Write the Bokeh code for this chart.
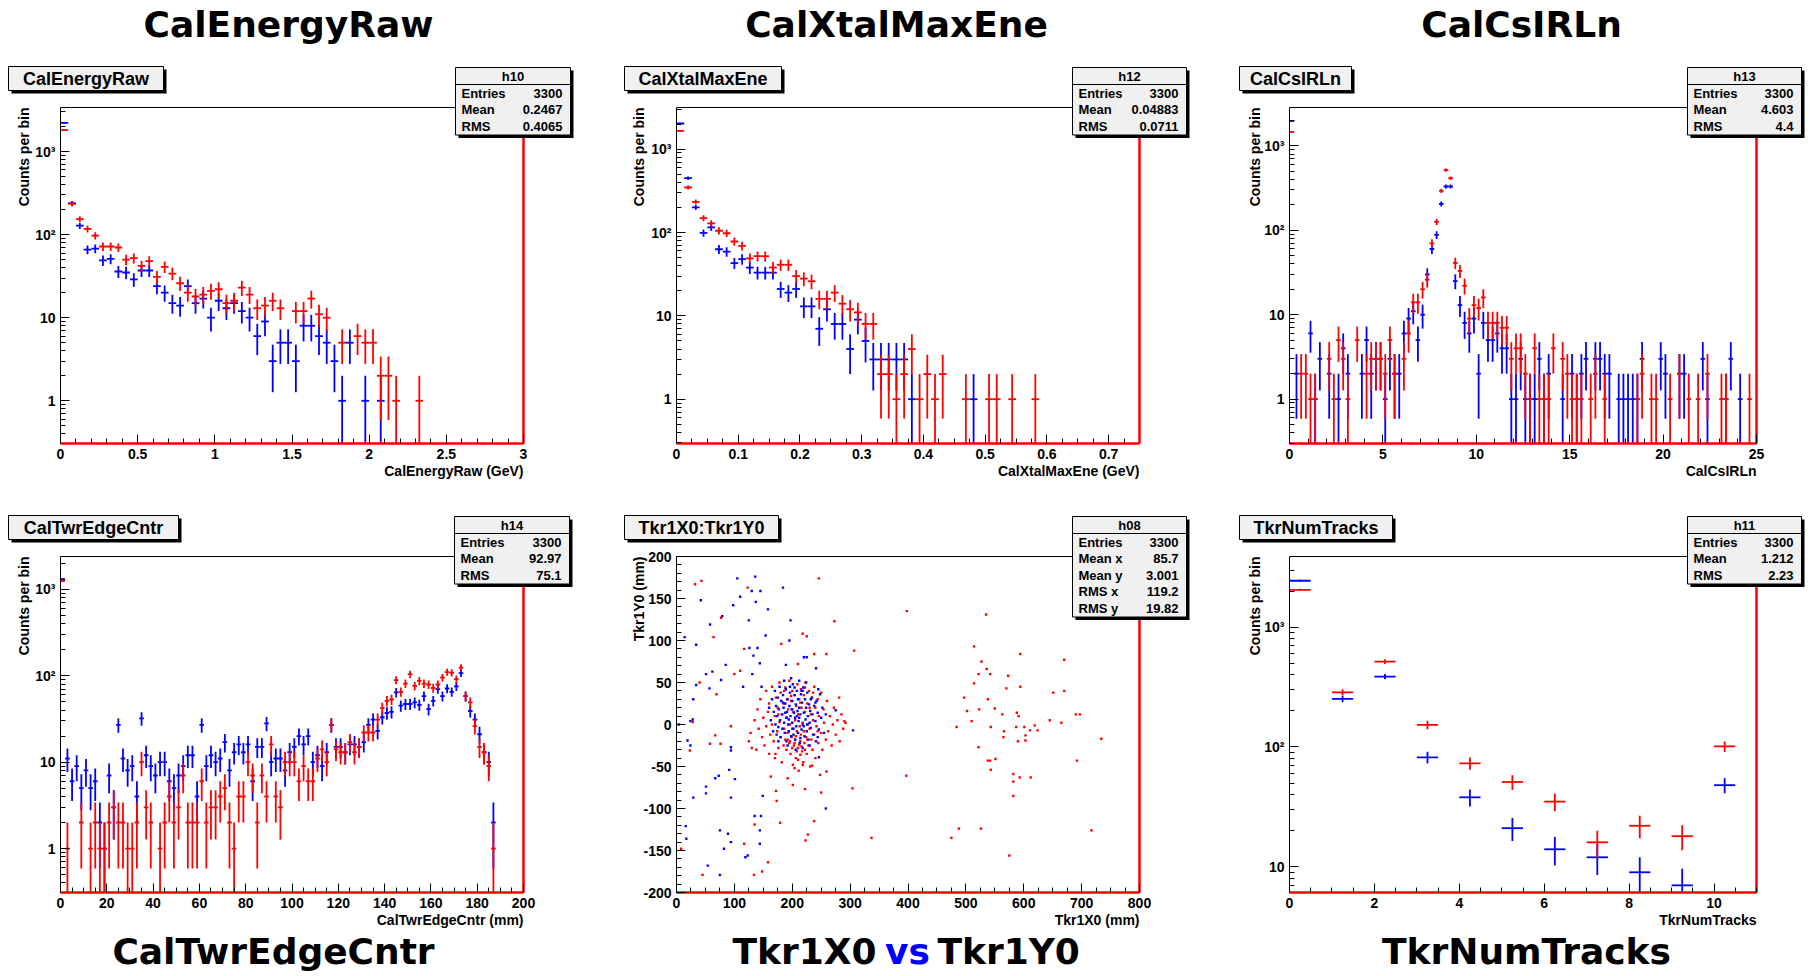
import math
from bokeh.plotting import figure
from bokeh.models import (Label, BoxAnnotation, Range1d, FixedTicker,
                          SingleIntervalTicker, CustomJSTickFormatter)
from bokeh.layouts import column, row
from bokeh.embed import file_html
from bokeh.resources import INLINE

# ---------------- data ----------------
# Panel 1: CalEnergyRaw (bins of 0.05 GeV from 0)
p1_blue_bin = list(range(0, 38)) + [39, 41]
p1_blue_y = [2215, 239, 128, 66, 68, 49, 51, 36, 35, 29,
             37, 37, 24, 20, 15, 14, 24, 15, 17, 10,
             16, 13, 15, 12, 10, 6, 9, 3, 5, 5,
             3, 8, 8, 6, 5, 3, 1, 5, 1, 1]
p1_red_bin = list(range(0, 29)) + [30, 31, 32, 33, 34, 36, 38, 39, 40, 41, 42, 43, 46]
p1_red_y = [1810, 234, 154, 117, 97, 72, 72, 70, 50, 52,
            42, 48, 31, 41, 34, 26, 20, 18, 19, 21,
            22, 15, 16, 23, 19, 13, 14, 16, 13,
            12, 12, 17, 11, 10, 5, 6, 5, 5, 2, 2, 1, 1]

# Panel 2: CalXtalMaxEne (bins of 0.0125 GeV)
p2_blue_bin = list(range(0, 31)) + [38]
p2_blue_y = [2032, 449, 200, 99, 115, 63, 59, 43, 48, 38,
             33, 33, 33, 21, 19, 21, 13, 13, 7, 12,
             8, 8, 4, 9, 5, 3, 3, 3, 3, 3, 1, 1]
p2_red_bin = list(range(0, 35)) + [37, 40, 41, 43, 46]
p2_red_y = [1660, 347, 233, 149, 129, 105, 98, 78, 69, 49,
            52, 52, 38, 41, 41, 30, 28, 26, 16, 16,
            19, 14, 12, 11, 8, 8, 2, 2, 1, 2,
            4, 1, 2, 1, 2, 1, 1, 1, 1, 1]

# Panel 3: CalCsIRLn (bins of 0.25)
p3_blue_bin = [0, 1, 4, 5, 6, 8, 10, 11, 12, 15, 16, 17, 18, 19, 20, 21, 22, 23, 24, 25,
               26, 27, 28, 29, 30, 31, 32, 33, 34, 35, 36, 37, 38, 39, 40, 41, 42, 43, 44, 45,
               46, 47, 48, 49, 50, 51, 52, 53, 54, 55, 58, 60, 61, 62, 63, 65, 66, 67, 68, 70,
               71, 72, 73, 74, 75, 79, 80, 83, 84, 88, 89, 93, 94, 96]
p3_blue_y = [1978, 2, 6, 1, 3, 2, 1, 4, 2, 2, 5, 2, 3, 3, 1, 3, 2, 2, 6, 9,
             11, 5, 10, 30, 60, 88, 205, 330, 330, 25, 13, 8, 6, 9, 2, 8, 5, 5, 6, 4,
             4, 1, 1, 3, 1, 1, 1, 3, 1, 2, 1, 2, 1, 2, 3, 3, 3, 2, 2, 1,
             1, 1, 1, 1, 3, 3, 2, 2, 2, 3, 1, 1, 3, 1]
p3_red_bin = [0, 2, 3, 4, 5, 8, 9, 10, 11, 12, 14, 16, 17, 18, 19, 20, 21, 22, 24, 25,
              26, 27, 28, 29, 30, 31, 32, 33, 34, 35, 36, 37, 38, 39, 40, 41, 42, 43, 44, 45,
              46, 47, 48, 49, 50, 51, 52, 53, 54, 55, 56, 58, 59, 60, 61, 62, 64, 65, 67, 74,
              75, 77, 78, 81, 83, 85, 87, 89, 92, 93, 98]
p3_red_y = [1466, 2, 2, 1, 1, 3, 1, 5, 3, 1, 5, 2, 3, 3, 3, 2, 5, 2, 3, 6,
            14, 14, 20, 26, 70, 126, 293, 515, 414, 41, 33, 22, 9, 13, 12, 16, 8, 8, 8, 7,
            7, 3, 4, 4, 2, 1, 4, 1, 1, 1, 4, 3, 2, 1, 1, 1, 1, 2, 1, 1,
            2, 1, 1, 1, 2, 1, 1, 2, 1, 1, 1]

# Panel 4: CalTwrEdgeCntr (bins of 2 mm)
p4_blue_bin = list(range(0, 94))
p4_blue_y = [1306, 11, 6, 9, 5, 8, 5, 6, 2, 1,
             7, 3, 27, 11, 8, 9, 4, 32, 12, 9,
             7, 10, 10, 6, 5, 7, 9, 12, 12, 4,
             27, 9, 12, 10, 11, 17, 8, 13, 16, 13,
             16, 6, 15, 15, 28, 10, 11, 11, 8, 13,
             15, 20, 16, 20, 10, 12, 9, 13, 27, 15,
             15, 13, 16, 16, 15, 17, 27, 31, 23, 33,
             37, 38, 64, 45, 47, 47, 49, 46, 58, 41,
             51, 70, 58, 71, 65, 75, 107, 58, 39, 31,
             21, 13, 10, 2]
p4_red_bin = [0, 1, 4] + list(range(6, 20)) + list(range(21, 94))
p4_red_y = [1250, 1, 2,
            1, 2, 1, 1, 2, 3, 2, 2, 1, 1, 2, 10, 3, 2,
            1, 2, 4, 2, 3, 7, 2, 2, 2, 6,
            2, 3, 3, 4, 5, 2, 1, 4, 4, 10,
            7, 2, 7, 4, 16, 4, 3, 10, 10, 10,
            6, 9, 6, 6, 11, 14, 10, 27, 14, 13,
            13, 17, 13, 15, 22, 22, 22, 31, 42, 51,
            53, 89, 65, 81, 104, 76, 87, 81, 79, 72,
            79, 95, 110, 108, 91, 124, 58, 49, 26, 15,
            13, 9, 1]

# Panel 5: Tkr1X0 vs Tkr1Y0 scatter (mm)
p5_blue_pts = [
    (105, 174), (136, 176), (184, 163), (110, 152), (130, 159), (145, 159), (137, 146), (42, 148),
    (98, 142), (158, 137), (125, 124), (58, 119), (197, 124), (79, 129), (14, 104), (154, 106),
    (195, 100), (34, 95), (126, 91), (140, 91), (133, 82), (144, 73), (85, 71), (225, 80),
    (51, 60), (62, 63), (131, 60), (77, 53), (241, 67), (189, 71), (34, 47), (57, 43),
    (115, 45), (147, 45), (29, 30), (24, 4), (4, 0), (19, -19), (24, -25), (94, -27),
    (94, -31), (91, -54), (73, -61), (101, -65), (67, -64), (51, -74), (51, -82), (29, -87),
    (94, -87), (149, -85), (246, -39), (258, -100), (135, -109), (146, -109), (16, -121),
    (144, -126), (75, -126), (89, -130), (94, -140), (17, -136), (144, -142), (82, -148),
    (119, -158), (123, -156), (54, -168), (75, -179), (305, -7), (220, 80), (28, 6),
    (218, 40), (240, 26), (275, 17), (245, 42),
    (160, 20), (163, 5), (165, 30), (167, -8), (168, 15), (170, 40), (171, 0), (172, 22),
    (173, -12), (174, 10), (175, 32), (176, -3), (177, 18), (178, 45), (179, 5), (180, -15),
    (181, 28), (182, 12), (183, -5), (184, 35), (185, 20), (186, 2), (187, -10), (188, 25),
    (189, 42), (190, 8), (190, -20), (191, 15), (192, 30), (193, 0), (194, -8), (195, 22),
    (196, 38), (197, 10), (198, -14), (199, 18), (200, 28), (200, 2), (201, 48), (202, -5),
    (203, 14), (204, 35), (205, -18), (205, 8), (206, 24), (207, -2), (208, 40), (209, 16),
    (210, -10), (210, 30), (211, 4), (212, 20), (213, -22), (214, 12), (215, 36), (216, -6),
    (217, 26), (218, 0), (219, 44), (220, 14), (221, -14), (222, 30), (223, 6), (224, 20),
    (225, -8), (226, 38), (227, 10), (228, -18), (229, 24), (230, 2), (231, 16), (232, -4),
    (234, 32), (235, 12), (236, -12), (238, 22), (240, 4), (241, -20), (242, 28), (244, 14),
    (246, -6), (248, 36), (250, 8), (252, 20), (255, -10), (258, 12), (186, 52), (198, 55),
    (212, 52), (224, 50), (192, -25), (206, -30), (218, -28), (230, -25), (176, -20),
    (244, -15), (196, 45), (214, -16), (202, -12), (188, 14), (208, 10), (220, -2), (194, 6),
    (226, 0), (200, 18), (212, 8), (184, 26), (232, 30), (216, 40), (204, 44)]
p5_red_pts = [
    (32, 167), (43, 171), (246, 174), (123, 163), (77, 127), (64, 104), (181, 96), (218, 108),
    (225, 105), (273, 123), (307, 88), (117, 90), (238, 84), (259, 84), (398, 135), (100, 60),
    (110, 64), (69, 36), (210, 72), (281, 32), (290, 4), (67, -13), (58, -23), (76, -23),
    (94, -2), (28, 3), (40, 50), (171, -35), (192, -64), (201, -72), (222, -77), (234, -49),
    (250, -81), (259, -56), (163, -62), (172, -79), (173, -91), (179, -117), (238, -115),
    (227, -131), (223, -138), (135, -119), (117, -142), (158, -164), (148, -175), (134, -179),
    (45, -179), (8, -148), (304, -76), (337, -135), (397, -61), (23, -31),
    (535, 131), (514, 93), (527, 75), (536, 66), (542, 60), (522, 60), (573, 58), (594, 84),
    (670, 77), (514, 49), (570, 43), (594, 45), (497, 32), (538, 30), (651, 38), (670, 40),
    (502, 16), (523, 18), (550, 19), (563, 12), (588, 14), (591, 10), (510, 4), (645, 5),
    (665, 2), (690, 12), (697, 12), (484, -3), (543, -3), (566, -8), (587, -3), (601, -3),
    (611, -7), (619, -1), (624, -7), (603, -13), (565, -15), (590, -20), (603, -19), (522, -27),
    (734, -17), (538, -43), (542, -43), (551, -41), (543, -54), (692, -43), (582, -59),
    (582, -68), (593, -63), (612, -63), (582, -85), (475, -135), (488, -124), (526, -124),
    (717, -126), (575, -156),
    (125, -20), (130, -28), (128, -10), (135, 5), (138, -30), (140, 18), (142, -5), (145, 30),
    (148, -15), (150, 8), (152, -25), (155, 40), (155, -2), (158, 15), (160, -35), (160, 25),
    (162, -12), (165, 45), (165, 0), (168, -20), (170, 10), (170, -40), (172, 32), (174, -8),
    (175, 20), (176, -28), (178, 50), (178, 3), (180, -15), (180, 38), (182, -45), (183, 12),
    (185, -25), (185, 25), (186, -5), (188, 44), (188, -18), (190, 8), (190, -30), (191, 30),
    (192, -10), (193, 18), (195, -22), (195, 52), (196, 0), (197, -35), (198, 28), (199, -15),
    (200, 40), (200, -5), (201, -48), (202, 15), (203, -25), (204, 35), (205, 5), (205, -18),
    (206, -40), (207, 22), (208, -8), (209, 48), (210, -28), (210, 12), (211, -55), (212, 30),
    (213, -2), (214, -20), (215, 42), (215, -12), (216, 20), (217, -32), (218, 2), (219, -45),
    (220, 35), (220, -8), (221, -22), (222, 15), (223, 50), (224, -15), (225, -35), (226, 25),
    (227, 0), (228, -25), (229, 40), (230, -5), (231, -50), (232, 12), (233, -18), (234, 32),
    (235, -30), (236, 5), (238, 45), (238, -12), (240, 20), (240, -40), (242, -2), (244, 30),
    (245, -22), (246, 10), (248, -60), (250, 38), (250, -10), (252, -30), (254, 18), (255, 2),
    (258, -18), (260, 28), (262, -8), (265, 10), (268, -25), (270, 0), (272, 20), (275, -12),
    (278, 5), (282, -20), (285, 12), (288, -5), (292, 2),
    (196, -20), (204, -22), (212, -24), (200, -28), (208, -32), (216, -26), (192, -18),
    (206, -14), (214, -36), (222, -30), (210, -42), (218, -48), (204, -52), (226, -18),
    (198, 34), (214, 26), (222, 44), (186, 40), (230, 20), (236, 38), (244, -8), (176, 12)]

# Panel 6: TkrNumTracks (bins of 0.5)
p6_bin = [0, 2, 4, 6, 8, 10, 12, 14, 16, 18, 20]
p6_blue_y = [2440, 252, 387, 82, 38, 21, 14, 12, 9, 7, 48]
p6_red_y = [2050, 286, 516, 153, 73, 51, 35, 16, 22, 18, 101]

stats = {
    "h10": [("Entries", "3300"), ("Mean", "0.2467"), ("RMS", "0.4065")],
    "h12": [("Entries", "3300"), ("Mean", "0.04883"), ("RMS", "0.0711")],
    "h13": [("Entries", "3300"), ("Mean", "4.603"), ("RMS", "4.4")],
    "h14": [("Entries", "3300"), ("Mean", "92.97"), ("RMS", "75.1")],
    "h08": [("Entries", "3300"), ("Mean x", "85.7"), ("Mean y", "3.001"),
            ("RMS x", "119.2"), ("RMS y", "19.82")],
    "h11": [("Entries", "3300"), ("Mean", "1.212"), ("RMS", "2.23")],
}

# ---------------- style ----------------
FONT = "Liberation Sans"
BIG = "DejaVu Sans"
RED = "#ff0000"
BLUE = "#0000ff"
BOXFILL = "#f0f0f0"
FH = 336  # inner frame height


def log_minor(lo, hi):
    out = []
    for e in range(-2, 5):
        for m in range(2, 10):
            v = m * 10 ** e
            if lo <= v <= hi:
                out.append(v)
    return out


class Panel:
    def __init__(self, W, H, L, R, T, B, xr, yr, log, xint, xminor, yint=None, yminor=None):
        self.ox = L          # screen x of inner frame left
        self.oy = H - B      # screen y (from bottom) of inner frame bottom
        self.xr, self.yr, self.log = xr, yr, log
        x0, x1 = xr
        fw = R - L
        xs = x0 - (x1 - x0) * L / fw
        xe = x1 + (x1 - x0) * (W - R) / fw
        a0, a1 = (math.log10(yr[0]), math.log10(yr[1])) if log else yr
        fh = B - T
        ys = a0 - (a1 - a0) * (H - B) / fh
        ye = a1 + (a1 - a0) * T / fh
        if log:
            ys, ye = 10 ** ys, 10 ** ye
        p = figure(width=W, height=H, x_range=Range1d(xs, xe), y_range=Range1d(ys, ye),
                   y_axis_type="log" if log else "linear", output_backend="svg",
                   toolbar_location=None, min_border=0)
        self.p = p
        p.xgrid.visible = False
        p.ygrid.visible = False
        p.outline_line_color = None
        p.background_fill_color = "white"
        p.border_fill_color = "white"
        for ax in (p.xaxis[0], p.yaxis[0]):
            ax.major_tick_in = 9
            ax.major_tick_out = 0
            ax.minor_tick_in = 5
            ax.minor_tick_out = 0
            ax.major_label_text_font = FONT
            ax.major_label_text_font_style = "bold"
            ax.major_label_text_font_size = "14px"
            ax.major_label_text_color = "black"
            ax.axis_line_color = "black"
            ax.major_tick_line_color = "black"
            ax.minor_tick_line_color = "black"
            ax.major_label_standoff = 5
        xa, ya = p.xaxis[0], p.yaxis[0]
        xa.fixed_location = yr[0]
        xa.bounds = xr
        xa.axis_line_color = None
        ya.fixed_location = xr[0]
        ya.bounds = yr
        xa.ticker = SingleIntervalTicker(interval=xint, num_minor_ticks=xminor)
        xa.formatter = CustomJSTickFormatter(
            code="return String(parseFloat(tick.toFixed(6)));")
        if log:
            majors = [v for v in (1, 10, 100, 1000) if yr[0] <= v <= yr[1]]
            ya.ticker = FixedTicker(ticks=majors, minor_ticks=log_minor(*yr))
            ya.formatter = CustomJSTickFormatter(code="""
                const e = Math.round(Math.log10(tick));
                if (e <= 0) return "1";
                if (e == 1) return "10";
                const sup = {2: "\u00b2", 3: "\u00b3", 4: "\u2074"};
                return "10" + sup[e];
            """)
        else:
            ya.ticker = SingleIntervalTicker(interval=yint, num_minor_ticks=yminor)
            ya.formatter = CustomJSTickFormatter(
                code="return String(parseFloat(tick.toFixed(6)));")
        # top edge of the frame (thin black)
        p.segment(x0=[xr[0]], x1=[xr[1]], y0=[yr[1]], y1=[yr[1]],
                  line_color="black", line_width=1)

    def edges(self):
        # red histogram edges on bottom and right
        x0, x1 = self.xr
        y0, y1 = self.yr
        self.p.segment(x0=[x0, x1], x1=[x1, x1], y0=[y0, y0], y1=[y0, y1],
                       line_color=RED, line_width=2.5)

    def hist(self, lo, w, bins, counts, color):
        ymin = self.yr[0]
        xs = [lo + (b + 0.5) * w for b in bins]
        ylo = [max(c - math.sqrt(c), ymin) for c in counts]
        yhi = [c + math.sqrt(c) for c in counts]
        self.p.segment(x0=[x - w / 2 for x in xs], x1=[x + w / 2 for x in xs],
                       y0=counts, y1=counts, line_color=color, line_width=1.8)
        self.p.segment(x0=xs, x1=xs, y0=ylo, y1=yhi, line_color=color, line_width=1.8)

    def label(self, x, y, text, size, align="left", baseline="middle", color="black",
              font=FONT, angle=0.0):
        self.p.add_layout(Label(x=self.ox + x, y=self.oy + y, x_units="screen",
                                y_units="screen", text=text, text_font=font,
                                text_font_size=f"{size}px", text_font_style="bold",
                                text_align=align, text_baseline=baseline,
                                text_color=color, angle=angle))

    def box(self, l, r, b, t, fill, line="black"):
        self.p.add_layout(BoxAnnotation(left=self.ox + l, right=self.ox + r,
                                        bottom=self.oy + b, top=self.oy + t,
                                        left_units="screen", right_units="screen",
                                        bottom_units="screen", top_units="screen",
                                        fill_color=fill, fill_alpha=1.0,
                                        line_color=line, line_width=1, line_alpha=1.0))

    def title_box(self, text, l, r, b=353, t=377):
        self.box(l + 3, r + 3, b - 3, t - 3, "black", None)
        self.box(l, r, b, t, BOXFILL)
        self.label((l + r) / 2, (b + t) / 2, text, 18, align="center")

    def stat_box(self, name, l, r):
        rows = stats[name]
        top, sep = 376, 359
        ys = [350.5 - 16.5 * i for i in range(len(rows))]
        bottom = ys[-1] - 9
        self.box(l + 3, r + 3, bottom - 3, top - 3, "black", None)
        self.box(l, r, sep, top, BOXFILL)
        self.box(l, r, bottom, sep, BOXFILL)
        self.label((l + r) / 2, (top + sep) / 2, name, 13, align="center")
        for (k, v), y in zip(rows, ys):
            self.label(l + 6, y, k, 13)
            self.label(r - 8, y, v, 13, align="right")

    def axis_titles(self, xtitle, ytitle, fw, ylx):
        self.label(fw, -27, xtitle, 14, align="right")
        self.label(ylx, FH, ytitle, 14, align="right", angle=math.pi / 2)


H1, H2 = 508, 464
BT = 36   # big title font size
BY_TOP, BY_BOT = 419, -59

# ---- Panel 1 ----
P1 = Panel(620, H1, 60, 523, 107, 443, (0, 3), (0.306, 3390), True, 0.5, 5)
P1.hist(0.0, 0.05, p1_blue_bin, p1_blue_y, BLUE)
P1.hist(0.0, 0.05, p1_red_bin, p1_red_y, RED)
P1.edges()
P1.title_box("CalEnergyRaw", -52, 103)
P1.stat_box("h10", 395, 510)
P1.axis_titles("CalEnergyRaw (GeV)", "Counts per bin", 463, -37)
P1.label(228, BY_TOP, "CalEnergyRaw", BT, align="center", baseline="alphabetic", font=BIG)

# ---- Panel 2 ----
P2 = Panel(612, H1, 56, 519, 107, 443, (0, 0.75), (0.294, 3162), True, 0.1, 4)
P2.hist(0.0, 0.0125, p2_blue_bin, p2_blue_y, BLUE)
P2.hist(0.0, 0.0125, p2_red_bin, p2_red_y, RED)
P2.edges()
P2.title_box("CalXtalMaxEne", -52, 105)
P2.stat_box("h12", 396, 510)
P2.axis_titles("CalXtalMaxEne (GeV)", "Counts per bin", 463, -38)
P2.label(220, BY_TOP, "CalXtalMaxEne", BT, align="center", baseline="alphabetic", font=BIG)

# ---- Panel 3 ----
P3 = Panel(574, H1, 57, 524, 107, 443, (0, 25), (0.298, 2846), True, 5, 5)
P3.hist(0.0, 0.25, p3_blue_bin, p3_blue_y, BLUE)
P3.hist(0.0, 0.25, p3_red_bin, p3_red_y, RED)
P3.edges()
P3.title_box("CalCsIRLn", -50, 62)
P3.stat_box("h13", 398, 512)
P3.axis_titles("CalCsIRLn", "Counts per bin", 467, -35)
P3.label(232, BY_TOP, "CalCsIRLn", BT, align="center", baseline="alphabetic", font=BIG)

# ---- Panel 4 ----
P4 = Panel(620, H2, 60, 523, 48, 384, (0, 200), (0.31, 2390), True, 20, 4)
P4.hist(0.0, 2.0, p4_blue_bin, p4_blue_y, BLUE)
P4.hist(0.0, 2.0, p4_red_bin, p4_red_y, RED)
P4.edges()
P4.title_box("CalTwrEdgeCntr", -52, 118)
P4.stat_box("h14", 394, 509)
P4.axis_titles("CalTwrEdgeCntr (mm)", "Counts per bin", 463, -37)
P4.label(213, BY_BOT, "CalTwrEdgeCntr", BT, align="center", baseline="alphabetic", font=BIG)

# ---- Panel 5 ----
P5 = Panel(612, H2, 56, 519, 48, 384, (0, 800), (-200, 200), False, 100, 4, 50, 5)
P5.p.scatter([q[0] for q in p5_red_pts], [q[1] for q in p5_red_pts], marker="square",
             size=2.4, fill_color=RED, line_color=None)
P5.p.scatter([q[0] for q in p5_blue_pts], [q[1] for q in p5_blue_pts], marker="square",
             size=2.4, fill_color=BLUE, line_color=None)
P5.edges()
P5.title_box("Tkr1X0:Tkr1Y0", -52, 102)
P5.stat_box("h08", 396, 510)
P5.axis_titles("Tkr1X0 (mm)", "Tkr1Y0 (mm)", 463, -38)
P5.label(200, BY_BOT, "Tkr1X0", BT, align="right", baseline="alphabetic", font=BIG)
P5.label(231, BY_BOT, "vs", BT, align="center", baseline="alphabetic", font=BIG, color=BLUE)
P5.label(261, BY_BOT, "Tkr1Y0", BT, align="left", baseline="alphabetic", font=BIG)

# ---- Panel 6 ----
P6 = Panel(574, H2, 57, 524, 48, 384, (0, 11), (6.1, 3890), True, 2, 4)
P6.hist(0.0, 0.5, p6_bin, p6_blue_y, BLUE)
P6.hist(0.0, 0.5, p6_bin, p6_red_y, RED)
P6.edges()
P6.title_box("TkrNumTracks", -50, 103)
P6.stat_box("h11", 398, 512)
P6.axis_titles("TkrNumTracks", "Counts per bin", 467, -35)
P6.label(237, BY_BOT, "TkrNumTracks", BT, align="center", baseline="alphabetic", font=BIG)

layout = column(row(P1.p, P2.p, P3.p, spacing=0), row(P4.p, P5.p, P6.p, spacing=0), spacing=0)
open("out.html", "w").write(file_html(layout, INLINE))
